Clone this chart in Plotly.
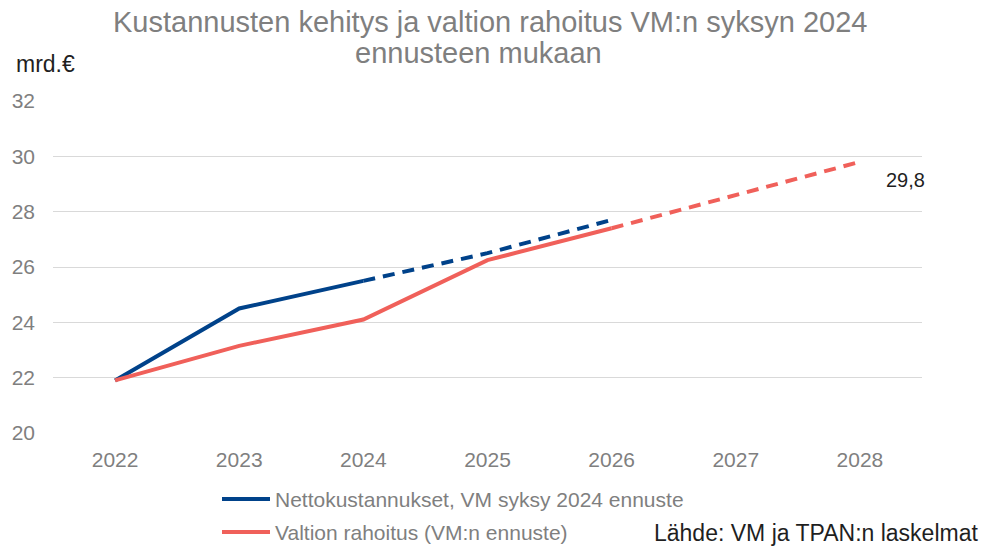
import plotly.graph_objects as go

years = ["2022", "2023", "2024", "2025", "2026", "2027", "2028"]
netto = [21.9, 24.5, 25.5, 26.5, 27.7]          # 2022-2026
rahoitus = [21.9, 23.15, 24.1, 26.25, 27.4, 28.6, 29.8]  # 2022-2028
y_ticks = [20, 22, 24, 26, 28, 30, 32]
series_names = ["Nettokustannukset, VM syksy 2024 ennuste", "Valtion rahoitus (VM:n ennuste)"]

BLUE = "#00428A"
RED = "#F0605A"
GRAY = "#7F7F7F"
DARK = "#1F1F1F"
FONT = "Liberation Sans, Arial, sans-serif"

W, H = 982, 547
L, R, T, B = 53, 60, 101, 114
PW, PH = W - L - R, H - T - B


def px(x):
    return (x - L) / PW


def py(y):
    return (H - B - y) / PH


fig = go.Figure()

fig.add_trace(go.Scatter(x=years[:3], y=netto[:3], mode="lines",
                         line=dict(color=BLUE, width=4), showlegend=False, hoverinfo="skip"))
fig.add_trace(go.Scatter(x=years[2:5], y=netto[2:5], mode="lines",
                         line=dict(color=BLUE, width=4, dash="12px,8px"), showlegend=False, hoverinfo="skip"))
fig.add_trace(go.Scatter(x=years[:5], y=rahoitus[:5], mode="lines",
                         line=dict(color=RED, width=4), showlegend=False, hoverinfo="skip"))
fig.add_trace(go.Scatter(x=years[4:], y=rahoitus[4:], mode="lines",
                         line=dict(color=RED, width=4, dash="12px,8px"), showlegend=False, hoverinfo="skip"))

# data label (category index of last year)
fig.add_annotation(x=len(years) - 1, y=rahoitus[-1], text=str(rahoitus[-1]).replace(".", ","),
                   showarrow=False, xanchor="left", yanchor="middle", xshift=24, yshift=-18,
                   font=dict(family=FONT, size=20, color=DARK))

# title
for txt, xc, yc in [("Kustannusten kehitys ja valtion rahoitus VM:n syksyn 2024", 490, 22),
                    ("ennusteen mukaan", 478, 53)]:
    fig.add_annotation(x=px(xc), y=py(yc), xref="paper", yref="paper", text=txt, showarrow=False,
                       xanchor="center", yanchor="middle",
                       font=dict(family=FONT, size=29, color=GRAY))

# unit label
fig.add_annotation(x=px(14), y=py(64), xref="paper", yref="paper", text="mrd.€", showarrow=False,
                   xanchor="left", yanchor="middle", font=dict(family=FONT, size=23, color=DARK))

# source
fig.add_annotation(x=px(980), y=py(533), xref="paper", yref="paper",
                   text="Lähde: VM ja TPAN:n laskelmat", showarrow=False,
                   xanchor="right", yanchor="middle", font=dict(family=FONT, size=23, color=DARK))

# manual legend
for name, col, yc in [(series_names[0], BLUE, 499), (series_names[1], RED, 532)]:
    fig.add_shape(type="line", xref="paper", yref="paper", x0=px(222), x1=px(270),
                  y0=py(yc), y1=py(yc), line=dict(color=col, width=4))
    fig.add_annotation(x=px(273), y=py(yc), xref="paper", yref="paper", text=name, showarrow=False,
                       xanchor="left", yanchor="middle", font=dict(family=FONT, size=21, color=GRAY))

fig.update_layout(
    width=W, height=H,
    margin=dict(l=L, r=R, t=T, b=B, autoexpand=False),
    paper_bgcolor="white", plot_bgcolor="white",
    font=dict(family=FONT, size=21, color=GRAY),
    xaxis=dict(type="category", categoryorder="array", categoryarray=years,
               range=[-0.5, 6.5], showgrid=False, showline=False, ticks="", automargin=False,
               tickfont=dict(size=21, color=GRAY), ticklabelstandoff=12),
    yaxis=dict(range=[20, 32], tickvals=y_ticks, showgrid=True, gridcolor="#D9D9D9", gridwidth=1,
               zeroline=False, showline=False, ticks="", automargin=False,
               tickfont=dict(size=21, color=GRAY), ticklabelstandoff=17),
    showlegend=False,
)

fig.write_html("out.html", config={"displayModeBar": False},
               post_script="document.body.style.margin='0';")
